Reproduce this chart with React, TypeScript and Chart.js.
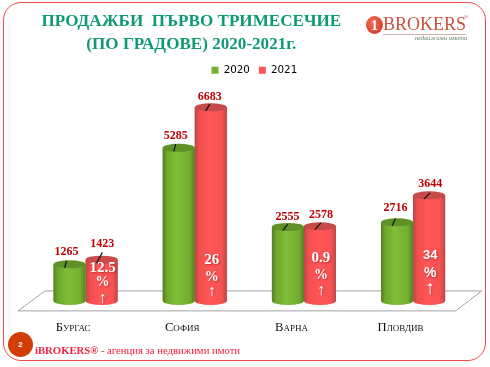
import React, { useEffect, useRef } from "react";
import { Chart, registerables } from "chart.js";

Chart.register(...registerables);

const cities = ["Бургас", "София", "Варна", "Пловдив"];
const sales2020 = [1265, 5285, 2555, 2716];
const sales2021 = [1423, 6683, 2578, 3644];
const growthValues = ["12.5", "26", "0.9", "34"];

const TITLE_LINES = ["ПРОДАЖБИ  ПЪРВО ТРИМЕСЕЧИЕ", "(ПО ГРАДОВЕ) 2020-2021г."];
const FOOTER_BRAND = "iBROKERS®";
const FOOTER_TEXT = " - агенция за недвижими имоти";

const SERIF = "'Liberation Serif', serif";
const SANS = "'Liberation Sans', sans-serif";

// styling of the cylinders, per series
const stopOffsets = [0, 0.14, 0.45, 0.84, 1];
const palettes = [
  { stops: ["#557f22", "#6fa82d", "#7fbf38", "#73ad30", "#567f24"], top: "#5f9127" },
  { stops: ["#b84646", "#f24e4e", "#ff5656", "#f85252", "#bb4848"], top: "#c94a4a" },
];

// leader-line and label lift above the top of each cylinder, per series
const leaderLift = [[3.3, 3.7, 2.6, 3.7], [7.3, 3.2, 3.3, 2.7]];
const labelLift = [[12, 12, 10, 14.3], [15.6, 10.5, 11, 11]];
const leaderShift = [[-3, -3, -0.3, -1.7], [0.7, -1, 1, 1]];

// height above the base for each of the three growth text rows
const growthRows = [[33, 18, 2], [41, 23.5, 9], [43, 25, 10], [45, 28, 12]];
const growthFamilies = [SERIF, SERIF, SERIF, SANS];

const cylinderPlugin = {
  id: "cylinders",
  afterLayout(chart: any) {
    chart.titleBlock.left -= 58;
    chart.titleBlock.right -= 58;
    chart.legend.left += 5;
    chart.legend.right += 5;
  },
  beforeDatasetsDraw(chart: any) {
    const { ctx, chartArea, scales } = chart;
    const y0 = scales.y.getPixelForValue(0);
    ctx.save();
    ctx.strokeStyle = "#a3a3a3";
    ctx.lineWidth = 1;
    ctx.beginPath();
    ctx.moveTo(chartArea.left - 13, y0 + 10);
    ctx.lineTo(chartArea.left + 14, y0 - 10);
    ctx.lineTo(chartArea.right + 14, y0 - 10);
    ctx.lineTo(chartArea.right - 12, y0 + 10);
    ctx.closePath();
    ctx.stroke();
    ctx.restore();
  },
  afterDatasetDraw(chart: any, args: any) {
    const { ctx, scales } = chart;
    const y0 = scales.y.getPixelForValue(0);
    const palette = palettes[args.index];
    const ry = 4;
    args.meta.data.forEach((bar: any) => {
      const rx = bar.width / 2;
      const g = ctx.createLinearGradient(bar.x - rx, 0, bar.x + rx, 0);
      palette.stops.forEach((c: string, i: number) => g.addColorStop(stopOffsets[i], c));
      ctx.save();
      ctx.fillStyle = g;
      ctx.beginPath();
      ctx.moveTo(bar.x - rx, bar.y);
      ctx.lineTo(bar.x + rx, bar.y);
      ctx.lineTo(bar.x + rx, y0);
      ctx.ellipse(bar.x, y0, rx, ry, 0, 0, Math.PI);
      ctx.closePath();
      ctx.fill();
      ctx.fillStyle = palette.top;
      ctx.beginPath();
      ctx.ellipse(bar.x, bar.y, rx, ry, 0, 0, Math.PI * 2);
      ctx.fill();
      ctx.restore();
    });
  },
  afterDatasetsDraw(chart: any) {
    const { ctx, scales } = chart;
    const y0 = scales.y.getPixelForValue(0);
    ctx.save();
    ctx.textAlign = "center";
    ctx.textBaseline = "middle";
    [0, 1].forEach((s) => {
      const meta = chart.getDatasetMeta(s);
      const values = chart.data.datasets[s].data;
      meta.data.forEach((bar: any, i: number) => {
        const shift = leaderShift[s][i];
        ctx.strokeStyle = "#111111";
        ctx.lineWidth = 1.2;
        ctx.beginPath();
        ctx.moveTo(bar.x - 5, bar.y + 3.5);
        ctx.lineTo(bar.x + shift, bar.y - leaderLift[s][i]);
        ctx.stroke();
        ctx.fillStyle = "#c00000";
        ctx.font = `bold 12px ${SERIF}`;
        ctx.fillText(String(values[i]), bar.x + shift, bar.y - labelLift[s][i]);
      });
    });
    const reds = chart.getDatasetMeta(1).data;
    ctx.fillStyle = "#ffffff";
    ctx.shadowColor = "rgba(90,0,0,0.45)";
    ctx.shadowBlur = 2;
    ctx.shadowOffsetX = 1;
    ctx.shadowOffsetY = 1;
    reds.forEach((bar: any, i: number) => {
      const rows = growthRows[i];
      const fam = growthFamilies[i];
      const x = bar.x + 1;
      ctx.font = `bold ${fam === SANS ? 13 : 15}px ${fam}`;
      ctx.fillText(growthValues[i], x, y0 - rows[0]);
      ctx.font = `bold 14px ${fam}`;
      ctx.fillText("%", x, y0 - rows[1]);
      ctx.font = `bold ${fam === SANS ? 19 : 16}px ${fam}`;
      ctx.fillText("↑", x, y0 - rows[2]);
    });
    ctx.restore();
  },
};

export default function App() {
  const ref = useRef<HTMLCanvasElement>(null);

  useEffect(() => {
    const chart = new Chart(ref.current as HTMLCanvasElement, {
      type: "bar",
      data: {
        labels: cities,
        datasets: [
          { label: "2020", data: sales2020, backgroundColor: "#78b034", categoryPercentage: 0.587, barPercentage: 1 },
          { label: "2021", data: sales2021, backgroundColor: "#ff5555", categoryPercentage: 0.587, barPercentage: 1 },
        ],
      },
      options: {
        animation: false,
        responsive: false,
        layout: { padding: { left: 31, right: 22.3, top: 8, bottom: 13 } },
        plugins: {
          tooltip: { enabled: false },
          title: {
            display: true,
            text: TITLE_LINES,
            color: "#0e9a75",
            font: { family: SERIF, size: 17.1, weight: "bold", lineHeight: 1.29 },
            padding: { top: 3, bottom: 1 },
          },
          legend: {
            display: true,
            position: "top",
            labels: {
              boxWidth: 7,
              boxHeight: 7,
              padding: 9,
              color: "#000000",
              font: { family: "'DejaVu Sans', sans-serif", size: 10.3 },
            },
          },
        },
        scales: {
          x: {
            grid: { display: false, drawTicks: false },
            border: { display: false },
            ticks: {
              color: "#111111",
              padding: 19,
              labelOffset: -12.5,
              maxRotation: 0,
              font: { family: SERIF, size: 12.6, weight: "small-caps" as any },
            },
          },
          y: { display: false, min: 0, max: 7440 },
        },
      },
      plugins: [cylinderPlugin],
    });
    return () => chart.destroy();
  }, []);

  return (
    <div style={{ position: "absolute", left: 0, top: 0, width: 490, height: 367, background: "#fff", overflow: "hidden" }}>
      <canvas ref={ref} width={490} height={367} style={{ display: "block" }} />
      <div style={{ position: "absolute", left: 3, top: 2, width: 483, height: 359, boxSizing: "border-box", border: "1.5px solid #f24a4a", borderRadius: 18, pointerEvents: "none" }} />
      {/* logo */}
      <div style={{ position: "absolute", left: 366, top: 16, width: 17, height: 18, borderRadius: "50%", background: "radial-gradient(circle at 40% 35%, #f26a50, #d03020)", color: "#fff", fontFamily: SERIF, fontWeight: "bold", fontSize: 14, lineHeight: "19px", textAlign: "center" }}>1</div>
      <div style={{ position: "absolute", left: 383, top: 15, fontFamily: SERIF, fontSize: 18, lineHeight: "19px", color: "#c9503f", whiteSpace: "nowrap", borderBottom: "1px solid #c9b5b0" }}>BROKERS</div>
      <div style={{ position: "absolute", left: 464, top: 14, fontFamily: SERIF, fontSize: 6, lineHeight: "7px", color: "#c9503f" }}>®</div>
      <div style={{ position: "absolute", left: 415, top: 34, fontFamily: SERIF, fontStyle: "italic", fontSize: 6.5, lineHeight: "8px", color: "#5d7f6a", whiteSpace: "nowrap" }}>недвижими имоти</div>
      {/* page badge and footer */}
      <div style={{ position: "absolute", left: 8, top: 332, width: 25, height: 25, borderRadius: "50%", background: "#d23c05", color: "#fff", fontFamily: SANS, fontWeight: "bold", fontSize: 8, lineHeight: "25px", textAlign: "center" }}>2</div>
      <div style={{ position: "absolute", left: 35, top: 344, fontFamily: SERIF, fontSize: 10.7, lineHeight: "13px", color: "#f5203f", whiteSpace: "pre" }}>
        <b>{FOOTER_BRAND}</b>{FOOTER_TEXT}
      </div>
    </div>
  );
}
